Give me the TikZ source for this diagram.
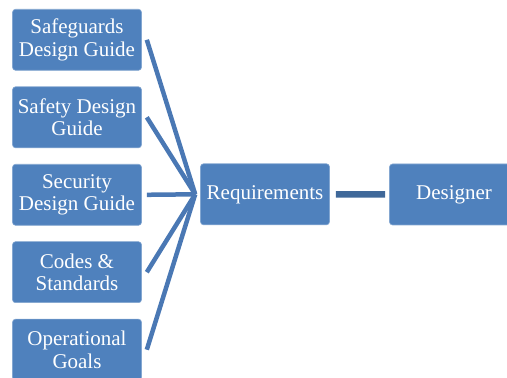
\documentclass[tikz,border=0pt]{standalone}
\usepackage{fontspec}
\setmainfont{Liberation Serif}
\usetikzlibrary{calc}
\definecolor{boxblue}{HTML}{4F81BD}
\definecolor{linkblue}{HTML}{4A78B4}
\definecolor{darklink}{HTML}{3F6899}
\tikzset{
  box/.style={rectangle, rounded corners=3pt, fill=boxblue, draw=boxblue!70!white, line width=0.6pt,
    minimum width=129pt, minimum height=61pt, inner sep=1pt, text=white, align=center,
    font=\fontsize{21pt}{22.5pt}\selectfont},
  link/.style={draw=linkblue, line width=4.5pt},
  mainlink/.style={draw=darklink, line width=6.5pt}
}
\begin{document}
\begin{tikzpicture}[x=1pt,y=1pt]
\useasboundingbox (0,0) rectangle (507,378);
\clip (0,0) rectangle (507,378);
\node[box] (b1) at (77,338.2) {Safeguards\\Design Guide};
\node[box] (b2) at (77,260.7) {Safety Design\\Guide};
\node[box] (b3) at (77,183.2) {Security\\Design Guide};
\node[box] (b4) at (77,105.8) {Codes \&\\Standards};
\node[box] (b5) at (77,28.3) {Operational\\Goals};
\node[box] (req) at (265,183.7) {Requirements};
\node[box] (des) at (454,183.5) {Designer};
\coordinate (conv) at ($(req.west)+(-5,0)$);
\foreach \b in {b1,b2,b3,b4,b5}{
  \draw[link] ($(\b.east)+(5,0)$) -- (conv);
}
\draw[mainlink] ($(req.east)+(6,0)$) -- ($(des.west)+(-4,0)$);
\end{tikzpicture}
\end{document}
